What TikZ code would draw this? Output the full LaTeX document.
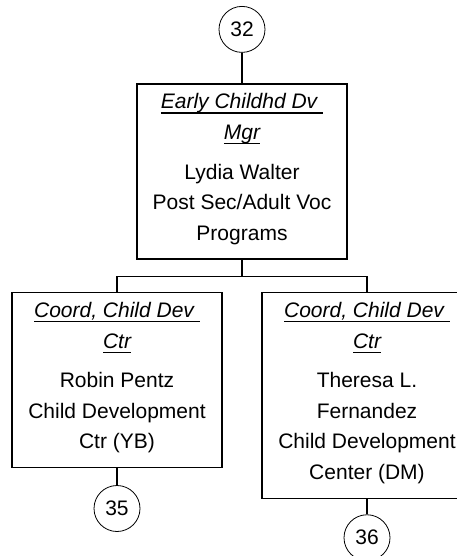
\documentclass[tikz,border=0pt]{standalone}
\usepackage{fontspec}
\setmainfont{Liberation Sans}
\newsavebox\titlebox
\newcommand{\postitle}[1]{\sbox\titlebox{\itshape #1}\rlap{\rule[-4.6pt]{\wd\titlebox}{1.2pt}}\usebox\titlebox}
\newcommand{\orgtop}{\rule{0pt}{25pt}}
\newcommand{\orgbot}{\rule[-19pt]{0pt}{19pt}}
\begin{document}
\begin{tikzpicture}
[level distance=54pt,
every node/.style={anchor=north, inner sep=0pt},
box/.style={draw, line width=1.2pt, minimum width=210pt, align=center,
  font=\fontsize{21}{30.5}\selectfont},
ref/.style={draw, circle, line width=0.8pt, minimum size=46pt,
  font=\fontsize{21}{25}\selectfont},
edge from parent/.style={draw, line width=1.2pt},
level 2/.style={level distance=120.5pt, sibling distance=250pt,
  edge from parent path={(\tikzparentnode.south) -- ++(0,-17pt) -| (\tikzchildnode.north)}},
level 3/.style={edge from parent path={(\tikzparentnode) -- (\tikzchildnode)}}]
\useasboundingbox (0,0) rectangle (456pt,-556pt);
\node[ref] (p32) at (242pt,-6pt) {32}
	child {node[box] (mgr) {\orgtop\postitle{Early Childhd Dv }\\ \postitle{Mgr}\\[9pt]
		Lydia Walter\\ Post Sec/Adult Voc\\ Programs\orgbot}
		child {node[box] (ctryb) {\orgtop\postitle{Coord, Child Dev }\\ \postitle{Ctr}\\[9pt]
			Robin Pentz\\ Child Development\\ Ctr (YB)\orgbot}
			child[level distance=105pt] {node[ref] (p35) {35}}
		}
		child {node[box] (ctrdm) {\orgtop\postitle{Coord, Child Dev }\\ \postitle{Ctr}\\[9pt]
			Theresa L.\\ Fernandez\\ Child Development\\ Center (DM)\orgbot}
			child[level distance=119pt] {node[ref] (p36) {36}}
		}
	};
\end{tikzpicture}
\end{document}
